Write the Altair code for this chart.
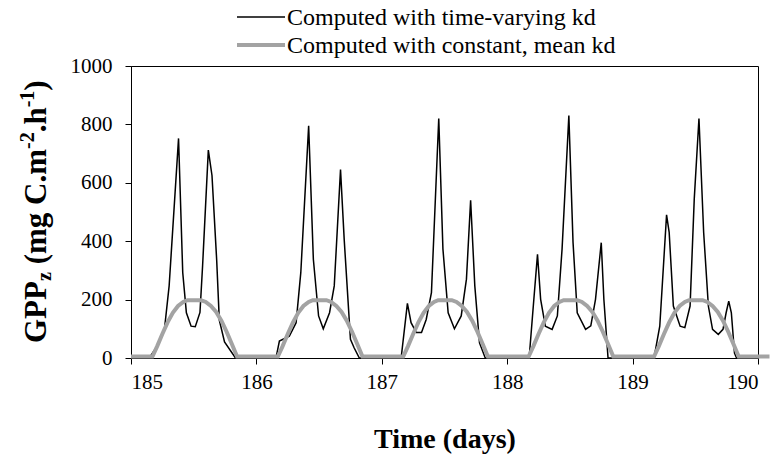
import altair as alt
import pandas as pd

BLACK_NAME = "Computed with time-varying kd"
GRAY_NAME = "Computed with constant, mean kd"

# ---- time-varying kd (black): hours after midnight of each day, GPPz values
days = [185, 186, 187, 188, 189]

tv185_hours = [0, 3.5, 4.8, 6.4, 7.3, 9.1, 9.9, 10.6, 11.5, 12.3, 13.2, 13.7, 14.8, 15.5, 16.4, 16.9, 17.9, 20.0]
tv185_gpp = [0, 0, 35, 98, 247, 752, 293, 155, 109, 107, 156, 315, 712, 625, 335, 130, 55, 0]

tv186_hours = [0, 3.75, 4.4, 5.3, 6.3, 7.6, 8.5, 10.0, 10.9, 11.9, 12.8, 14.0, 14.9, 16.1, 16.8, 18.0, 18.7, 19.7]
tv186_gpp = [0, 0, 58, 66, 75, 121, 293, 795, 338, 144, 100, 155, 247, 645, 407, 64, 35, 0]

tv187_hours = [0, 3.7, 4.9, 5.6, 6.6, 7.6, 8.5, 9.5, 10.9, 11.7, 12.7, 13.9, 15.2, 16.2, 17.0, 17.8, 18.7, 19.8]
tv187_gpp = [0, 0, 187, 121, 87, 87, 132, 224, 820, 373, 155, 100, 144, 270, 540, 247, 52, 0]

tv188_hours = [0, 4.2, 5.1, 5.8, 6.4, 7.3, 8.6, 9.6, 10.5, 11.8, 12.6, 13.4, 15.0, 16.0, 16.9, 18.0, 18.5, 19.3]
tv188_gpp = [0, 0, 201, 355, 201, 109, 98, 144, 373, 830, 396, 155, 98, 110, 201, 395, 201, 0]

tv189_hours = [0, 4.1, 5.2, 6.5, 7.0, 7.8, 9.1, 10.0, 11.0, 11.8, 12.7, 13.6, 14.5, 15.3, 16.4, 17.3, 17.9, 18.4, 18.9, 19.5, 19.9, 24]
tv189_gpp = [0, 0, 109, 490, 430, 178, 109, 104, 178, 545, 820, 430, 178, 98, 81, 98, 155, 195, 155, 17, 0, 0]

# ---- constant, mean kd (gray): hours after midnight of each day, GPPz values
cm185_hours = [0, 4.1, 5, 6, 7, 8, 9, 10, 10.8, 13.4, 14.3, 15.3, 16.3, 17.3, 18.3, 19.3, 20.3]
cm185_gpp = [5, 5, 40, 82, 122, 155, 178, 192, 198, 198, 192, 178, 158, 128, 90, 48, 5]
cm186_hours = [0, 4.1, 5, 6, 7, 8, 9, 10, 10.8, 13.4, 14.3, 15.3, 16.3, 17.3, 18.3, 19.3, 20.3]
cm186_gpp = [5, 5, 40, 82, 122, 155, 178, 192, 198, 198, 192, 178, 158, 128, 90, 48, 5]
cm187_hours = [0, 4.1, 5, 6, 7, 8, 9, 10, 10.8, 13.4, 14.3, 15.3, 16.3, 17.3, 18.3, 19.3, 20.3]
cm187_gpp = [5, 5, 40, 82, 122, 155, 178, 192, 198, 198, 192, 178, 158, 128, 90, 48, 5]
cm188_hours = [0, 4.1, 5, 6, 7, 8, 9, 10, 10.8, 13.4, 14.3, 15.3, 16.3, 17.3, 18.3, 19.3, 20.3]
cm188_gpp = [5, 5, 40, 82, 122, 155, 178, 192, 198, 198, 192, 178, 158, 128, 90, 48, 5]
cm189_hours = [0, 4.1, 5, 6, 7, 8, 9, 10, 10.8, 13.4, 14.3, 15.3, 16.3, 17.3, 18.3, 19.3, 20.3, 24, 26.2]
cm189_gpp = [5, 5, 40, 82, 122, 155, 178, 192, 198, 198, 192, 178, 158, 128, 90, 48, 5, 5, 5]

x_ticks = [185, 186, 187, 188, 189, 190]
y_ticks = [0, 200, 400, 600, 800, 1000]

rows = []
tv = [(tv185_hours, tv185_gpp), (tv186_hours, tv186_gpp), (tv187_hours, tv187_gpp),
      (tv188_hours, tv188_gpp), (tv189_hours, tv189_gpp)]
cm = [(cm185_hours, cm185_gpp), (cm186_hours, cm186_gpp), (cm187_hours, cm187_gpp),
      (cm188_hours, cm188_gpp), (cm189_hours, cm189_gpp)]
for d, (hs, vs) in zip(days, tv):
    for h, v in zip(hs, vs):
        rows.append({"t": d + h / 24.0, "v": v, "s": BLACK_NAME})
for d, (hs, vs) in zip(days, cm):
    for h, v in zip(hs, vs):
        rows.append({"t": d + h / 24.0, "v": v, "s": GRAY_NAME})
df = pd.DataFrame(rows)

FONT = "Liberation Serif, Times New Roman, DejaVu Serif, serif"
BLACK_COL = "#000000"
GRAY_COL = "#a3a3a3"

x_enc = alt.X("t:Q", scale=alt.Scale(domain=[185, 190], nice=False, zero=False),
              axis=alt.Axis(values=x_ticks, format="d", title="Time (days)",
                            titleFont=FONT, titleFontSize=28, titleFontWeight="bold",
                            titleColor="black", titlePadding=33,
                            labelFont=FONT, labelFontSize=21, labelColor="black",
                            labelPadding=7, tickSize=6, grid=False))
y_enc = alt.Y("v:Q", scale=alt.Scale(domain=[0, 1000], nice=False),
              axis=alt.Axis(values=y_ticks, format="d", title=None,
                            labelFont=FONT, labelFontSize=21, labelColor="black",
                            labelPadding=13, tickSize=6, grid=False))
color_enc = alt.Color("s:N", scale=alt.Scale(domain=[BLACK_NAME, GRAY_NAME], range=[BLACK_COL, GRAY_COL]),
                      legend=None)
sw_enc = alt.StrokeWidth("s:N", scale=alt.Scale(type="ordinal", domain=[BLACK_NAME, GRAY_NAME], range=[1.5, 4]),
                         legend=None)

base = alt.Chart(df)
black_line = base.transform_filter(alt.datum.s == BLACK_NAME).mark_line().encode(
    x=x_enc, y=y_enc, color=color_enc, strokeWidth=sw_enc)
gray_line = base.transform_filter(alt.datum.s == GRAY_NAME).mark_line().encode(
    x=x_enc, y=y_enc, color=color_enc, strokeWidth=sw_enc)

one = pd.DataFrame({"k": [0]})

# legend (drawn above the plot)
legend_layers = []
for i, (name, col, wdt) in enumerate([(BLACK_NAME, BLACK_COL, 1.5), (GRAY_NAME, GRAY_COL, 4)]):
    yy = -49 + 28 * i
    legend_layers.append(
        alt.Chart(one).mark_rule(color=col, strokeWidth=wdt)
        .encode(x=alt.value(106), x2=alt.value(154), y=alt.value(yy))
    )
    legend_layers.append(
        alt.Chart(one).mark_text(align="left", baseline="middle", font=FONT, fontSize=24, color="black")
        .encode(x=alt.value(156), y=alt.value(yy + 1), text=alt.value(name))
    )

# y-axis title built from pieces (subscript / superscripts)
BIG = 31
SMALL = 20
W = {"G": 778, "P": 611, "z": 444, " ": 250, "(": 333, "m": 833, "g": 500, "C": 722,
     ".": 250, "h": 556, ")": 333, "-": 333, "2": 500, "1": 500}


def tw(s, size):
    return sum(W[c] for c in s) * size / 1000.0


pieces = [("GPP", BIG, 0, 0), ("z", SMALL, 5, 0), ("(mg C.m", BIG, 0, tw(" ", BIG)), ("-2", SMALL, -12, 0),
          (".h", BIG, 0, 0), ("-1", SMALL, -12, 0), (")", BIG, 0, 0)]
base_x = -85
pos_y = 277
title_layers = []
for txt, size, shift, gap in pieces:
    pos_y -= gap
    title_layers.append(
        alt.Chart(one).mark_text(angle=270, align="left", baseline="alphabetic",
                                 font=FONT, fontSize=size, fontWeight="bold", color="black")
        .encode(x=alt.value(base_x + shift), y=alt.value(pos_y), text=alt.value(txt))
    )
    pos_y -= tw(txt, size)

chart = alt.layer(black_line, gray_line, *legend_layers, *title_layers).properties(
    width=627, height=292,
    padding={"left": 131, "top": 66, "right": 21, "bottom": 105},
    autosize=alt.AutoSizeParams(type="none"),
).configure_view(stroke="black", strokeWidth=1).configure_axis(
    domainColor="black", tickColor="black", domainWidth=1, tickWidth=1,
    labelFont=FONT, titleFont=FONT
).configure_text(font=FONT)

chart.save("out.html", embed_options={"renderer": "svg", "actions": False})
